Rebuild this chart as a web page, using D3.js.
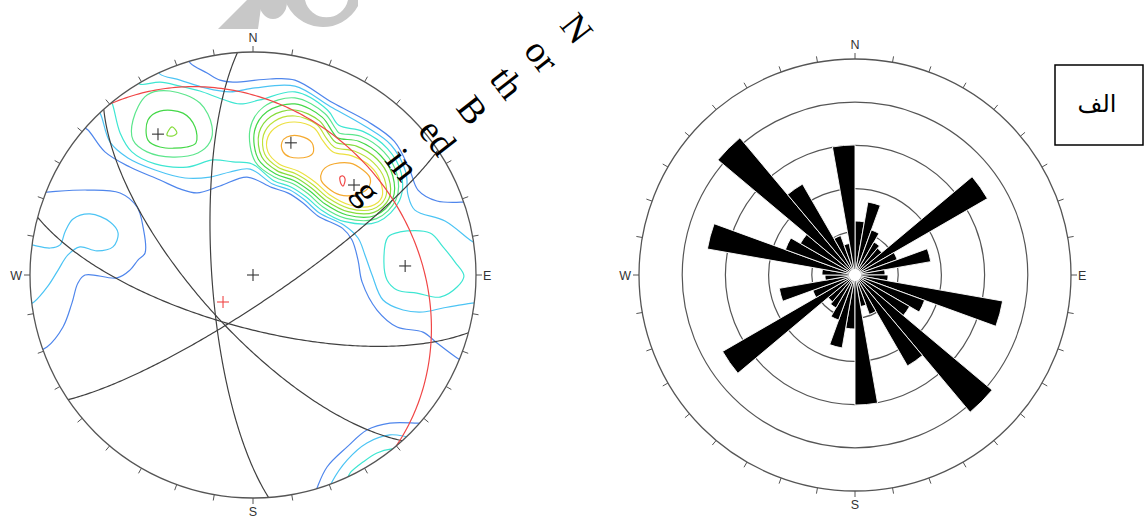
<!DOCTYPE html>
<html><head><meta charset="utf-8">
<script src="https://cdn.jsdelivr.net/npm/d3@7"></script>
<style>body{margin:0;background:#fff} svg{display:block}</style>
</head><body>
<svg id="chart" width="1147" height="519"></svg>
<script>
// ---------------- DATA ----------------
// Stereonet: great circles (dip direction, dip) in degrees
const planeDipDir = [266, 228, 195, 146];
const planeDip    = [75, 70, 70.5, 80];
const redPlaneDipDir = 50, redPlaneDip = 30;
// Pole / axis crosses (trend, plunge)
const crossTrend  = [326, 16, 48.3, 86.6, 0];
const crossPlunge = [24.8, 38.3, 39.2, 32.2, 90];
const redCrossTrend = [228], redCrossPlunge = [75.3];
const compassLabels = ["N", "E", "S", "W"];

// Density contours, digitised in net coordinates (primitive radius = 100, x east, y north)
const blueTop   = [[-29.5,99],[-28.2,95.1],[-20.6,90.6],[-14.8,87.4],[-9.0,86.5],[7.6,87.9],[18.8,87.4],[35.8,77.2],[51.3,68.9],[63.4,59.9],[70.4,46.8],[74.0,38.1],[82.5,33.2],[95.1,32.7],[99,33]];
const blueLower = [[-77,67],[-74.0,65.0],[-66.4,55.2],[-55.2,48.4],[-41.7,42.6],[-32.7,38.6],[-25.1,36.8],[-14.8,39.9],[-2.7,43.9],[8.3,39.3],[15.8,36.7],[22.3,32.4],[29.1,26.5],[40.2,20.9],[44.4,15.7],[47.1,6.7],[48.9,-3.1],[55.6,-15.7],[64.6,-23.3],[76.2,-25.6],[82.5,-30.5],[91.5,-37.2],[95,-39]];
const blueWest  = [[-96,37],[-92.4,37.2],[-74.4,38.1],[-59.6,36.8],[-52.0,30.5],[-49.3,21.5],[-48.4,9.9],[-51.6,6.7],[-55.2,2.2],[-61.0,-1.3],[-75.3,0],[-78.5,-3.6],[-81.2,-12.6],[-85.2,-23.3],[-92.4,-32.3],[-96,-34]];
const blueSE    = [[27.5,-99],[28.7,-95.5],[33.2,-86.1],[42.2,-77.1],[51.1,-69.5],[61.4,-66.4],[73.5,-66.4],[77,-66.5]];
const skyUpper  = [[-43,93],[-41.7,90.1],[-32.7,87.4],[-21.5,83.9],[-10.3,82.1],[0.9,83.9],[18.8,84.7],[34.6,75.6],[50.3,66.7],[61.9,58.3],[68.5,46.2],[69.5,35.9],[72.6,29.1],[86.1,24.2],[97.3,15.7],[100,14]];
const skyLower  = [[-71,75],[-68.6,72.6],[-64.1,59.6],[-56.1,52.5],[-43.9,47.1],[-30.5,43.5],[-19.3,43.9],[-10.3,46.2],[-1.3,47.5],[8.8,40.8],[16.4,38.2],[23.1,33.7],[29.8,27.8],[40.7,22.4],[47.1,16.6],[50.2,9.0],[53.4,0],[58.3,-11.2],[67.3,-15.7],[76.2,-16.6],[85.2,-14.8],[98.2,-12.6],[101,-12.5]];
const skyWest   = [[-101,13.5],[-99.5,13.5],[-91.0,12.1],[-86.5,13.5],[-84.3,19.3],[-80.7,25.1],[-73.1,27.4],[-64.1,23.8],[-60.5,18.8],[-62.8,12.6],[-70.0,10.8],[-77.6,12.6],[-83.0,9.0],[-87.4,2.2],[-91.9,-4.9],[-98.2,-12.1],[-100,-13]];
const skySE     = [[34.5,-95],[35.4,-92.8],[42.2,-83.0],[51.1,-75.3],[61.4,-71.7],[69,-72.5],[72,-73]];
const turqBand  = [[-64.5,79],[-63.2,77.1],[-59.6,63.7],[-54.3,55.2],[-43.9,49.8],[-29.6,48.4],[-17.9,51.6],[-9.0,50.7],[-0.4,49.8],[9.3,42.3],[17.0,39.5],[23.9,35.0],[30.6,29.2],[41.2,23.9],[56.1,23.9],[65.7,33.4],[66.5,45.6],[60.3,56.7],[49.3,64.4],[38.5,67.1],[33.4,74.0],[18.8,82.1],[3.1,78.5],[-5.8,76.7],[-13.9,78.9],[-23.8,82.5],[-32.7,84.7],[-41.7,86.5],[-50.7,85.6],[-52,88]];
const turqEast  = [[60.5,17.0],[65.9,19.3],[79.4,18.8],[85.2,12.6],[90.6,5.8],[94.6,-0.4],[91.5,-5.4],[83.9,-9.9],[73.5,-8.1],[64.6,-6.7],[60.1,-2.2],[58.7,5.8]];
const turqSE    = [[42.5,-91],[43.5,-88.8],[49.3,-83.9],[55.6,-79.8],[62.3,-78.0],[64,-78]];
const l4NW = [[-53.8,69.5],[-47.5,80.7],[-37.2,82.5],[-23.8,77.1],[-18.4,66.8],[-19.3,59.6],[-24.7,54.7],[-35.9,52.9],[-47.5,55.2],[-53.8,60.5]];
const l5NW = [[-47.1,69.5],[-41.7,73.5],[-31.4,72.6],[-26.0,66.4],[-25.6,59.2],[-29.6,57.4],[-41.7,57.4],[-47.1,60.5]];
const l6NW = [[-38.6,62.8],[-36.3,66.4],[-34.1,63.7],[-36.3,62.3]];
const l4Main = [[1.0,50.8],[-1.3,65.5],[4.8,75.4],[18.8,79.4],[32.2,72.4],[37.0,65.7],[38.6,63.7],[48.3,62.2],[58.7,55.2],[64.6,45.0],[64.1,33.7],[55.4,25.3],[41.6,25.4],[31.4,30.5],[24.7,36.4],[17.7,41.0],[9.8,43.8]];
const l5Main = [[2.4,51.9],[0.7,64.6],[6.4,73.3],[18.8,76.7],[31.0,70.8],[35.6,64.3],[37.9,61.5],[47.4,60.0],[57.2,53.6],[62.7,44.4],[62.6,34.0],[54.8,26.7],[42.1,26.9],[32.2,31.9],[25.5,37.7],[18.3,42.4],[10.2,45.3]];
const l6Main = [[3.9,53.0],[2.7,63.7],[8.0,71.1],[18.8,74.0],[29.8,69.1],[34.2,62.9],[37.2,59.4],[46.4,57.8],[55.6,52.0],[60.8,43.8],[61.0,34.3],[54.2,28.1],[42.6,28.4],[33.0,33.2],[26.2,39.0],[18.9,43.8],[10.7,46.8]];
const l7Main = [[5.3,54.1],[4.7,62.8],[9.6,69.0],[18.8,71.3],[28.6,67.5],[32.8,61.5],[36.5,57.3],[45.4,55.6],[54.0,50.4],[58.9,43.2],[59.4,34.7],[53.5,29.5],[43.0,29.9],[33.8,34.5],[27.0,40.4],[19.6,45.2],[11.2,48.3]];
const l8Main = [[6.7,55.2],[6.7,61.9],[11.2,66.8],[18.8,68.6],[27.4,65.9],[31.4,60.1],[35.9,55.2],[44.4,53.4],[52.5,48.9],[56.9,42.6],[57.8,35.0],[52.9,30.9],[43.5,31.4],[34.5,35.9],[27.8,41.7],[20.2,46.6],[11.7,49.8]];
const l9A = [[13.0,59.6],[15.2,61.9],[21.1,62.3],[26.5,59.2],[26.9,54.7],[24.2,52.9],[16.6,52.9],[13.5,55.2]];
const l9B = [[30.9,46.2],[34.5,49.3],[43.5,50.2],[49.3,47.1],[52.5,43.5],[51.6,39.0],[45.7,35.9],[39.0,35.9],[33.6,39.0],[30.5,42.6]];
const l10 = [[39.0,43.9],[40.4,44.4],[41.3,43.0],[40.4,39.9],[39.5,40.8]];
const levelColors = ["#4f86ec","#4cc4f4","#3ee6d2","#5ce68c","#44d848","#86dc3c","#bce23a","#ece040","#f5aa30","#f04848"];

// Rose diagram (bidirectional, 10° bins, % of measurements)
const roseBinStart = [0,10,20,30,40,50,60,70,80,90,100,110,120,130,140,150,160,170];
const roseValues   = [2.5,3.43,2.22,1.76,1.62,7.08,2.08,3.56,1.39,1.53,6.94,3.43,2.92,8.29,4.86,1.94,1.48,6.02];
const roseRings    = [2,4,6,8];
const roseMax      = 10;

const overlayLines = ["N","or","th","B","ed","in","g"];
const boxLabel = "الف";

// ---------------- DRAWING ----------------
const svg = d3.select("#chart");
const d2r = Math.PI/180;

// ---- Stereonet ----
const net = {cx:253, cy:275, R:223};
const netX = d3.scaleLinear().domain([-100,100]).range([net.cx-net.R, net.cx+net.R]);
const netY = d3.scaleLinear().domain([-100,100]).range([net.cy+net.R, net.cy-net.R]);
function project(trend, plunge){ // equal-area lower hemisphere
  const r = Math.SQRT2*Math.sin((90-plunge)/2*d2r)*100;
  return [r*Math.sin(trend*d2r), r*Math.cos(trend*d2r)];
}
function greatCircle(dd, dip){
  const S=[Math.cos((dd-90)*d2r), Math.sin((dd-90)*d2r), 0];
  const D=[Math.cos(dip*d2r)*Math.cos(dd*d2r), Math.cos(dip*d2r)*Math.sin(dd*d2r), Math.sin(dip*d2r)];
  const pts=[];
  for(let t=0;t<=180;t+=1){
    const c=Math.cos(t*d2r), s=Math.sin(t*d2r);
    const v=[c*S[0]+s*D[0], c*S[1]+s*D[1], c*S[2]+s*D[2]];
    const trend=Math.atan2(v[1],v[0])/d2r;
    const pl=Math.asin(Math.max(-1,Math.min(1,v[2])))/d2r;
    pts.push(project(trend,pl));
  }
  return pts;
}
const defs = svg.append("defs");
defs.append("clipPath").attr("id","primClip").append("circle")
  .attr("cx",net.cx).attr("cy",net.cy).attr("r",net.R);

const lineOpen = d3.line().x(d=>netX(d[0])).y(d=>netY(d[1])).curve(d3.curveCatmullRom.alpha(0.5));
const lineClosed = d3.line().x(d=>netX(d[0])).y(d=>netY(d[1])).curve(d3.curveCatmullRomClosed.alpha(0.5));
const lineLin = d3.line().x(d=>netX(d[0])).y(d=>netY(d[1]));

const contourTable = [
  {lvl:1, closed:false, pts:blueTop},{lvl:1, closed:false, pts:blueLower},{lvl:1, closed:false, pts:blueWest},{lvl:1, closed:false, pts:blueSE},
  {lvl:2, closed:false, pts:skyUpper},{lvl:2, closed:false, pts:skyLower},{lvl:2, closed:false, pts:skyWest},{lvl:2, closed:false, pts:skySE},
  {lvl:3, closed:false, pts:turqBand},{lvl:3, closed:true, pts:turqEast},{lvl:3, closed:false, pts:turqSE},
  {lvl:4, closed:true, pts:l4NW},{lvl:4, closed:true, pts:l4Main},
  {lvl:5, closed:true, pts:l5NW},{lvl:5, closed:true, pts:l5Main},
  {lvl:6, closed:true, pts:l6NW},{lvl:6, closed:true, pts:l6Main},
  {lvl:7, closed:true, pts:l7Main},{lvl:8, closed:true, pts:l8Main},
  {lvl:9, closed:true, pts:l9A},{lvl:9, closed:true, pts:l9B},{lvl:10, closed:true, pts:l10}
];
const gNet = svg.append("g");
const gClip = gNet.append("g").attr("clip-path","url(#primClip)");
gClip.selectAll("path.contour").data(contourTable).join("path")
  .attr("class","contour")
  .attr("d",d=>d.closed?lineClosed(d.pts):lineOpen(d.pts))
  .attr("fill","none").attr("stroke",d=>levelColors[d.lvl-1]).attr("stroke-width",1.2);

// great circles
const planes = planeDipDir.map((dd,i)=>({dd, dip:planeDip[i]}));
gClip.selectAll("path.gc").data(planes).join("path").attr("class","gc")
  .attr("d",d=>lineLin(greatCircle(d.dd,d.dip)))
  .attr("fill","none").attr("stroke","#404040").attr("stroke-width",1.2);
gClip.append("path").attr("d",lineLin(greatCircle(redPlaneDipDir,redPlaneDip)))
  .attr("fill","none").attr("stroke","#f04646").attr("stroke-width",1.2);

// primitive
gNet.append("circle").attr("cx",net.cx).attr("cy",net.cy).attr("r",net.R)
  .attr("fill","none").attr("stroke","#555").attr("stroke-width",1.3);

function drawTicks(g, cx, cy, R){
  const az = d3.range(0,360,10);
  g.selectAll("line.tick").data(az).join("line").attr("class","tick")
    .attr("x1",a=>cx+R*Math.sin(a*d2r)).attr("y1",a=>cy-R*Math.cos(a*d2r))
    .attr("x2",a=>cx+(R+6)*Math.sin(a*d2r)).attr("y2",a=>cy-(R+6)*Math.cos(a*d2r))
    .attr("stroke","#555").attr("stroke-width",1);
  const pos = [
    {t:compassLabels[0], x:cx, y:cy-R-10, a:"middle"},
    {t:compassLabels[1], x:cx+R+7, y:cy+4.5, a:"start"},
    {t:compassLabels[2], x:cx, y:cy+R+18, a:"middle"},
    {t:compassLabels[3], x:cx-R-8, y:cy+4.5, a:"end"}
  ];
  g.selectAll("text.lab").data(pos).join("text").attr("class","lab")
    .attr("x",d=>d.x).attr("y",d=>d.y).attr("text-anchor",d=>d.a)
    .attr("font-family","Liberation Sans, Arial, sans-serif").attr("font-size",12.5).attr("fill","#333")
    .text(d=>d.t);
}
drawTicks(gNet.append("g"), net.cx, net.cy, net.R);

// crosses
function drawCross(g, trend, plunge, color){
  const p = project(trend, plunge);
  const x = netX(p[0]), y = netY(p[1]);
  g.append("line").attr("x1",x-6).attr("x2",x+6).attr("y1",y).attr("y2",y).attr("stroke",color).attr("stroke-width",1.1);
  g.append("line").attr("x1",x).attr("x2",x).attr("y1",y-6).attr("y2",y+6).attr("stroke",color).attr("stroke-width",1.1);
}
crossTrend.forEach((t,i)=>drawCross(gNet, t, crossPlunge[i], "#333"));
redCrossTrend.forEach((t,i)=>drawCross(gNet, t, redCrossPlunge[i], "#f04646"));

// ---- Rose diagram ----
const rose = {cx:855, cy:275, R:216};
const rScale = d3.scaleLinear().domain([0,roseMax]).range([0,rose.R]);
const gRose = svg.append("g");
gRose.selectAll("circle.ring").data(roseRings).join("circle").attr("class","ring")
  .attr("cx",rose.cx).attr("cy",rose.cy).attr("r",d=>rScale(d))
  .attr("fill","none").attr("stroke","#555").attr("stroke-width",1.2);
gRose.append("circle").attr("cx",rose.cx).attr("cy",rose.cy).attr("r",rScale(roseMax))
  .attr("fill","none").attr("stroke","#555").attr("stroke-width",1.3);
const petals = [];
roseBinStart.forEach((a,i)=>{ petals.push({a, v:roseValues[i]}); petals.push({a:a+180, v:roseValues[i]}); });
const arc = d3.arc().innerRadius(0).outerRadius(d=>rScale(d.v))
  .startAngle(d=>d.a*d2r).endAngle(d=>(d.a+10)*d2r);
gRose.append("g").attr("transform",`translate(${rose.cx},${rose.cy})`)
  .selectAll("path").data(petals).join("path").attr("d",arc)
  .attr("fill","#000").attr("stroke","#fff").attr("stroke-width",0.9).attr("stroke-linejoin","bevel");
gRose.append("circle").attr("cx",rose.cx).attr("cy",rose.cy).attr("r",6).attr("fill","#fff");
drawTicks(gRose.append("g"), rose.cx, rose.cy, rose.R);

// ---- Overlay rotated text ----
const gTxt = svg.append("g").attr("transform","translate(567,36) rotate(52)");
gTxt.selectAll("text").data(overlayLines).join("text")
  .attr("x",0).attr("y",(d,i)=>i*44.2).attr("text-anchor","middle")
  .attr("font-family","Liberation Serif, Times New Roman, serif").attr("font-size",37).attr("fill","#000")
  .text(d=>d);

// ---- Watermark fragment at top ----
const gW = svg.append("g").attr("fill","#c8c8c8");
gW.append("path").attr("d","M218,29 L247,0 L262,0 L258,29 Z");
gW.append("ellipse").attr("cx",273).attr("cy",2).attr("rx",14).attr("ry",17);
gW.append("path").attr("fill-rule","evenodd")
  .attr("d","M285,0 A40,40 0 0 0 358,6 L358,0 Z M305,0 A22,22 0 0 0 348,0 Z");

// ---- Box label ----
svg.append("rect").attr("x",1055).attr("y",65).attr("width",88).attr("height",80)
  .attr("fill","#fff").attr("stroke","#000").attr("stroke-width",1.5);
svg.append("text").attr("x",1097).attr("y",112).attr("text-anchor","middle")
  .attr("font-family","DejaVu Sans, Noto Sans, sans-serif").attr("font-size",24).attr("fill","#000")
  .text(boxLabel);
</script>
</body></html>
